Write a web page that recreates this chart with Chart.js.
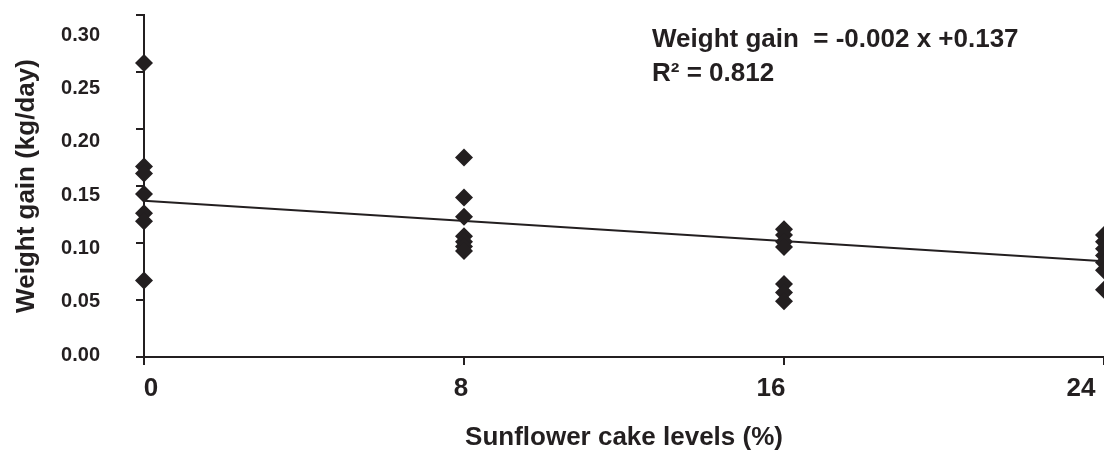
<!DOCTYPE html>
<html><head><meta charset="utf-8">
<script src="https://cdn.jsdelivr.net/npm/chart.js@4"></script>
<style>html,body{margin:0;padding:0;background:#fff}#wrap{width:1104px;height:457px}</style>
</head><body><div id="wrap"><canvas id="c" width="1104" height="457"></canvas></div>
<script>
// ---- data ----
const levels = [0, 8, 16, 24];                 // Sunflower cake levels (%)
const gainAt0  = [0.258, 0.167, 0.161, 0.143, 0.126, 0.119, 0.067];
const gainAt8  = [0.175, 0.140, 0.123, 0.106, 0.101, 0.097, 0.093];
const gainAt16 = [0.112, 0.107, 0.101, 0.0965, 0.064, 0.0566, 0.049];
const gainAt24 = [0.107, 0.101, 0.095, 0.089, 0.083, 0.076, 0.059];
const trendX = [0, 24];
const trendY = [0.137, 0.084];
const xTickValues = [0, 8, 16, 24];
const yTickValues = [0, 0.05, 0.10, 0.15, 0.20, 0.25, 0.30];
const equationLines = ['Weight gain  = -0.002 x +0.137', 'R\u00B2 = 0.812'];

const INK = '#231f20';
Chart.defaults.font.family = '"Liberation Sans", Arial, sans-serif';
Chart.defaults.color = INK;

const groups = [gainAt0, gainAt8, gainAt16, gainAt24];
const points = [];
groups.forEach((g, i) => g.forEach(v => points.push({x: levels[i], y: v})));
const trend = trendX.map((x, i) => ({x, y: trendY[i]}));

const eqPlugin = {
  id: 'equation',
  afterDatasetsDraw(chart, args, opts) {
    const {ctx} = chart;
    const x = chart.scales.x, y = chart.scales.y;
    ctx.save();
    ctx.font = 'bold 26px "Liberation Sans", Arial, sans-serif';
    ctx.fillStyle = INK;
    ctx.textAlign = 'left';
    ctx.textBaseline = 'alphabetic';
    const px = x.getPixelForValue(opts.x);
    opts.lines.forEach((t, i) => ctx.fillText(t, px, y.getPixelForValue(opts.y[i])));
    ctx.restore();
  }
};

const setTicks = vals => s => { s.ticks = vals.map(v => ({value: v})); };
const fixSize = (w, h) => s => {
  if (w !== null) s.width = w;
  if (h !== null) s.height = h;
  s.paddingTop = 0; s.paddingBottom = 0; s.paddingLeft = 0; s.paddingRight = 0;
};

new Chart(document.getElementById('c'), {
  type: 'scatter',
  data: {
    datasets: [
      {
        type: 'line', data: trend, borderColor: INK, borderWidth: 2,
        pointRadius: 0, fill: false, clip: false, order: 2
      },
      {
        data: points, pointStyle: 'rectRot', pointRadius: 9, pointHoverRadius: 9,
        backgroundColor: INK, borderColor: INK, borderWidth: 0, clip: false, order: 1
      }
    ]
  },
  options: {
    responsive: false,
    devicePixelRatio: 1,
    animation: false,
    layout: {autoPadding: false, padding: {left: 7, top: 15, right: 0, bottom: 0}},
    plugins: {
      legend: {display: false},
      tooltip: {enabled: false},
      equation: {x: 12.7, y: [0.2719, 0.2421], lines: equationLines}
    },
    scales: {
      x: {
        type: 'linear', position: 'bottom', weight: 0, min: 0, max: 24,
        afterBuildTicks: setTicks(xTickValues),
        ticks: {display: false},
        grid: {drawOnChartArea: false, tickLength: 8, color: INK, lineWidth: 2},
        border: {color: INK, width: 2},
        afterFit: fixSize(null, 8)
      },
      xl: {
        type: 'linear', position: 'bottom', weight: 1, display: true,
        min: -0.1806, max: 24.593,
        afterBuildTicks: setTicks(xTickValues),
        ticks: {font: {size: 26, weight: 'bold'}, color: INK, padding: 8, autoSkip: false,
                maxRotation: 0, callback: v => String(v)},
        grid: {display: false, drawTicks: false},
        border: {display: false},
        title: {display: true, text: 'Sunflower cake levels (%)', color: INK,
                font: {size: 26, weight: 'bold'}, padding: {top: 0, bottom: 4}},
        afterFit: fixSize(null, 92)
      },
      y: {
        type: 'linear', position: 'left', weight: 0, min: 0, max: 0.30,
        afterBuildTicks: setTicks(yTickValues),
        ticks: {display: false},
        grid: {drawOnChartArea: false, tickLength: 8, color: INK, lineWidth: 2},
        border: {color: INK, width: 2},
        afterFit: fixSize(8, null)
      },
      yl: {
        type: 'linear', position: 'left', weight: 1, display: true,
        min: -0.001875, max: 0.31875,
        afterBuildTicks: setTicks(yTickValues),
        ticks: {font: {size: 20, weight: 'bold'}, color: INK, padding: 36, autoSkip: false,
                callback: v => Number(v).toFixed(2)},
        grid: {display: false, drawTicks: false},
        border: {display: false},
        title: {display: true, text: 'Weight gain (kg/day)', color: INK,
                font: {size: 26, weight: 'bold'}, padding: {top: 4, bottom: 0}},
        afterFit: fixSize(129, null)
      }
    }
  },
  plugins: [eqPlugin]
});
</script>
</body></html>
